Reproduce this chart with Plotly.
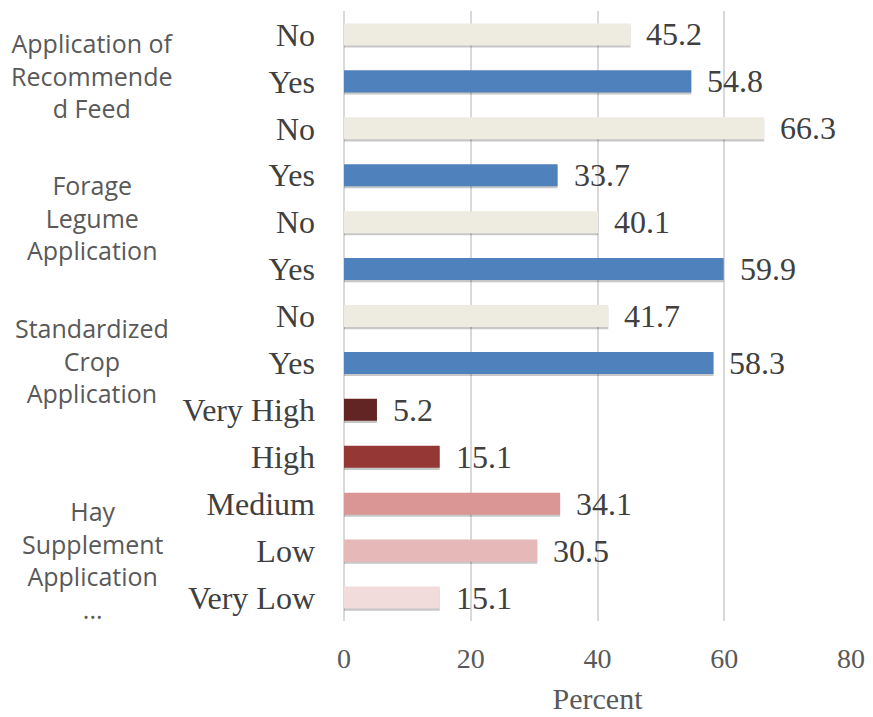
import plotly.graph_objects as go

categories = ["No", "Yes", "No", "Yes", "No", "Yes", "No", "Yes",
              "Very High", "High", "Medium", "Low", "Very Low"]
values = [45.2, 54.8, 66.3, 33.7, 40.1, 59.9, 41.7, 58.3, 5.2, 15.1, 34.1, 30.5, 15.1]
bar_colors = ["#EEECE1", "#4F81BD", "#EEECE1", "#4F81BD", "#EEECE1", "#4F81BD",
              "#EEECE1", "#4F81BD", "#632523", "#953735", "#D99694", "#E6B9B8", "#F2DCDB"]
group_labels = ["Application of<br>Recommende<br>d Feed",
                "Forage<br>Legume<br>Application",
                "Standardized<br>Crop<br>Application",
                "Hay<br>Supplement<br>Application<br>..."]
group_rows = [0.87, 3.9, 6.95, 11.2]
x_ticks = [0, 20, 40, 60, 80]

pos = list(range(len(categories)))
serif = "Liberation Serif, Times New Roman, serif"

fig = go.Figure()
# soft shadow under each bar
fig.add_trace(go.Bar(
    x=values, y=pos, orientation="h", width=0.47, offset=-0.19,
    marker=dict(color="rgba(0,0,0,0.22)", line=dict(width=0)),
    hoverinfo="skip", showlegend=False,
))
fig.add_trace(go.Bar(
    x=values, y=pos, orientation="h", width=0.47, offset=-0.235,
    marker=dict(color=bar_colors, line=dict(width=0)),
    showlegend=False,
))

for v, p in zip(values, pos):
    fig.add_annotation(
        x=v, y=p, xref="x", yref="y", text=f"{v:.1f}", showarrow=False,
        xanchor="left", yanchor="middle", xshift=14,
        font=dict(family=serif, size=32, color="#404040"),
    )

for lbl, r in zip(group_labels, group_rows):
    fig.add_annotation(
        x=-0.497, xref="paper", y=r, yref="y", text=lbl, showarrow=False,
        xanchor="center", yanchor="middle", align="center",
        font=dict(family="Open Sans, Noto Sans, sans-serif", size=25, color="#595959"),
    )

fig.update_layout(
    width=865, height=709,
    margin=dict(l=336, r=22, t=3, b=96),
    paper_bgcolor="white", plot_bgcolor="white",
    barmode="overlay",
    xaxis=dict(
        range=[0, 80], tickvals=x_ticks, showgrid=True, gridcolor="#D9D9D9", gridwidth=1.5,
        zeroline=True, zerolinecolor="#D9D9D9", zerolinewidth=1.5, showline=False,
        tickfont=dict(family=serif, size=28, color="#595959"),
        ticks="", ticklen=0, automargin=False, ticklabelstandoff=18,
        title=dict(text="Percent", font=dict(family=serif, size=30, color="#595959"), standoff=14),
    ),
    yaxis=dict(
        tickvals=pos, ticktext=categories, autorange=False, range=[12.5, -0.5],
        tickfont=dict(family=serif, size=32, color="#404040"),
        showgrid=False, zeroline=False, showline=False, ticks="", ticklabelstandoff=28,
        automargin=False,
    ),
)

fig.write_html("out.html")
